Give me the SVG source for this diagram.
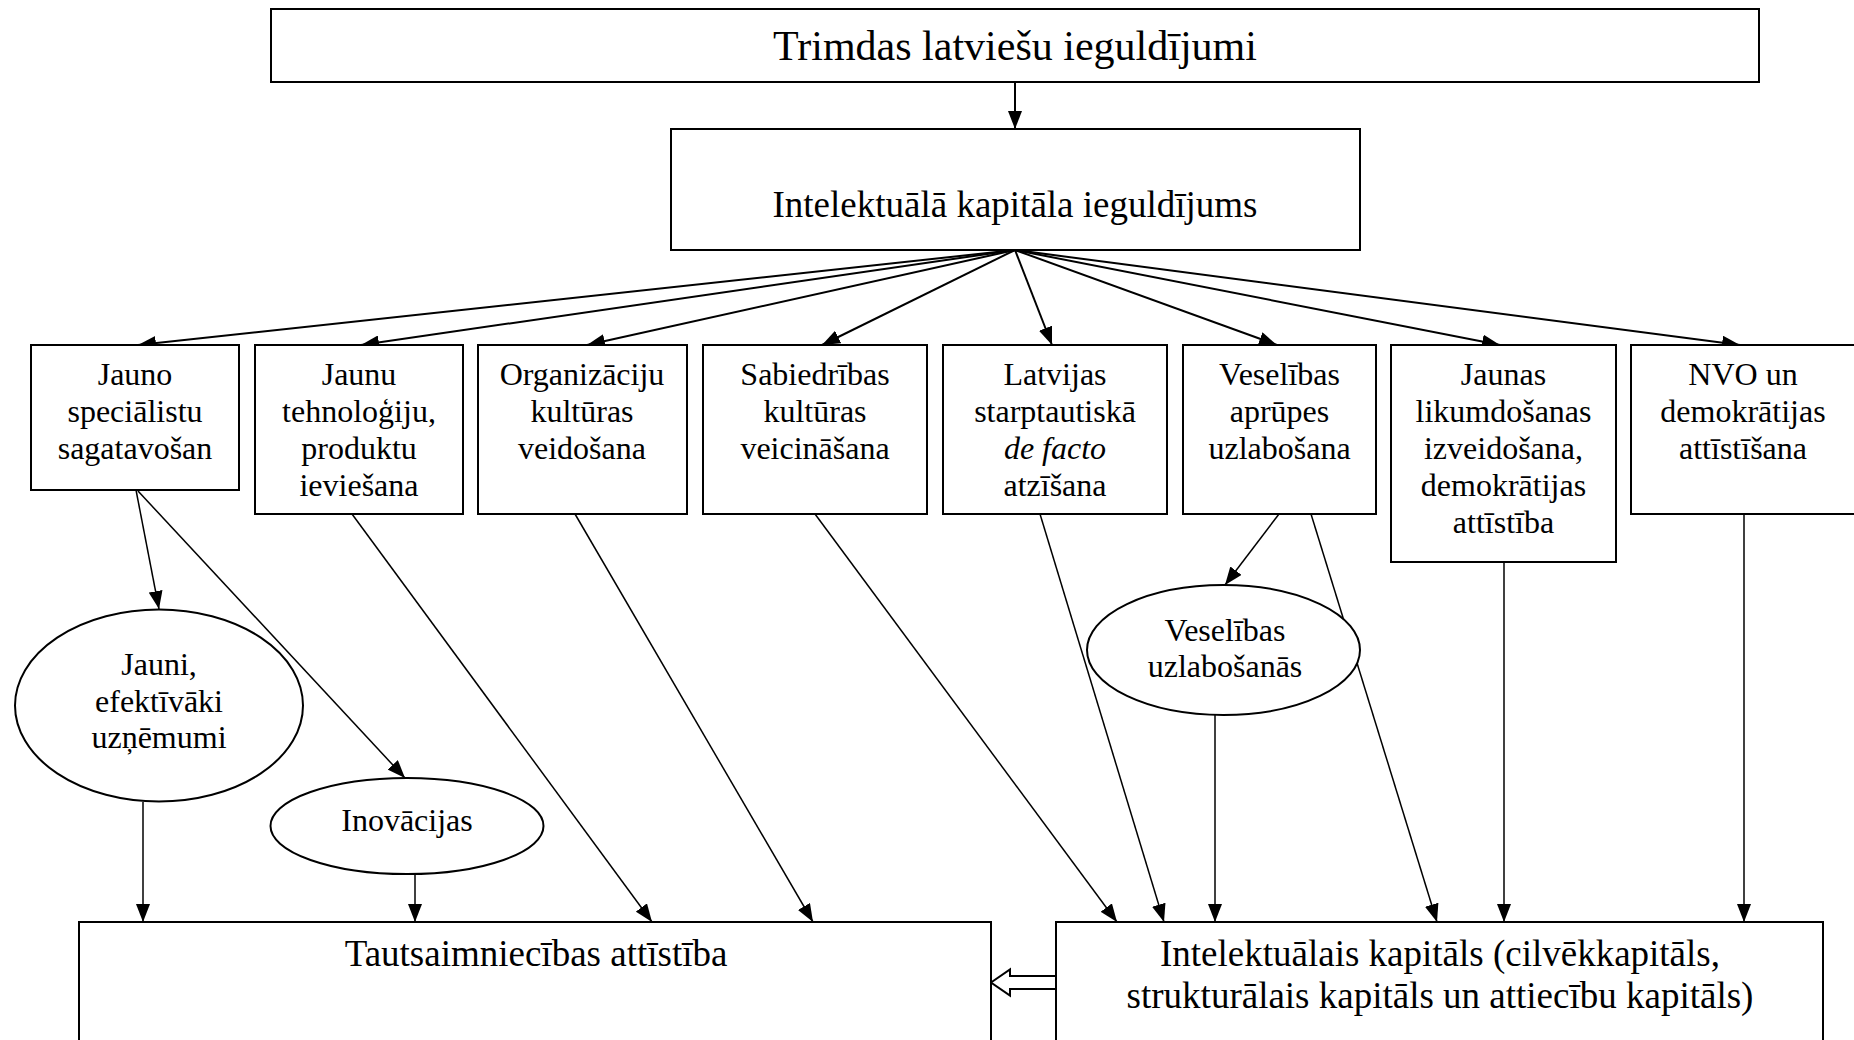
<svg xmlns="http://www.w3.org/2000/svg" width="1854" height="1040" viewBox="0 0 1854 1040">
<defs>
<marker id="ah" markerUnits="userSpaceOnUse" markerWidth="18" markerHeight="14" refX="18" refY="7" orient="auto"><path d="M0,0 L18,7 L0,14 z" fill="#000"/></marker>
<style>
.box{fill:#fff;stroke:#000;stroke-width:2}
.ell{fill:#fff;stroke:#000;stroke-width:2}
text{font-family:"Liberation Serif","Times New Roman",serif;fill:#000;text-anchor:middle}
.t32{font-size:32px}
.t37{font-size:37px}
.t42{font-size:42px}
.fan{stroke:#000;stroke-width:2;fill:none;marker-end:url(#ah)}
.ln{stroke:#000;stroke-width:1.5;fill:none;marker-end:url(#ah)}
</style>
</defs>
<rect width="1854" height="1040" fill="#fff"/>
<g id="connectors">
<line class="fan" x1="1015" y1="82" x2="1015" y2="129"/>
<line class="fan" x1="1015" y1="250" x2="138" y2="345"/>
<line class="fan" x1="1015" y1="250" x2="361" y2="345"/>
<line class="fan" x1="1015" y1="250" x2="587" y2="345"/>
<line class="fan" x1="1015" y1="250" x2="822" y2="345"/>
<line class="fan" x1="1015" y1="250" x2="1052" y2="345"/>
<line class="fan" x1="1015" y1="250" x2="1277" y2="345"/>
<line class="fan" x1="1015" y1="250" x2="1500" y2="345"/>
<line class="fan" x1="1015" y1="250" x2="1740" y2="345"/>
<line class="ln" x1="136" y1="490" x2="159" y2="609"/>
<line class="ln" x1="138" y1="491" x2="405" y2="778"/>
<line class="ln" x1="143" y1="802" x2="143" y2="922"/>
<line class="ln" x1="415" y1="874" x2="415" y2="922"/>
<line class="ln" x1="352" y1="514" x2="652" y2="922"/>
<line class="ln" x1="575" y1="514" x2="813" y2="922"/>
<line class="ln" x1="815" y1="514" x2="1117" y2="922"/>
<line class="ln" x1="1040" y1="514" x2="1164" y2="922"/>
<line class="ln" x1="1279" y1="514" x2="1225" y2="585"/>
<line class="ln" x1="1311" y1="514" x2="1437" y2="922"/>
<line class="ln" x1="1215" y1="715" x2="1215" y2="922"/>
<line class="ln" x1="1504" y1="562" x2="1504" y2="922"/>
<line class="ln" x1="1744" y1="514" x2="1744" y2="922"/>
<polygon points="991,982.5 1010,969.5 1010,976 1056,976 1056,989 1010,989 1010,995.5" fill="#fff" stroke="#000" stroke-width="2"/>
</g>
<g id="n-top"><rect class="box" x="271" y="9" width="1488" height="73"/><text class="t42" x="1015" y="60">Trimdas latviešu ieguldījumi</text></g>
<g id="n-ik"><rect class="box" x="671" y="129" width="689" height="121"/><text class="t37" x="1015" y="217">Intelektuālā kapitāla ieguldījums</text></g>
<g id="n-b1"><rect class="box" x="31" y="345" width="208" height="145"/><text class="t32" x="135"><tspan x="135" y="385">Jauno</tspan><tspan x="135" y="422">speciālistu</tspan><tspan x="135" y="459">sagatavošan</tspan></text></g>
<g id="n-b2"><rect class="box" x="255" y="345" width="208" height="169"/><text class="t32" x="359"><tspan x="359" y="385">Jaunu</tspan><tspan x="359" y="422">tehnoloģiju,</tspan><tspan x="359" y="459">produktu</tspan><tspan x="359" y="496">ieviešana</tspan></text></g>
<g id="n-b3"><rect class="box" x="478" y="345" width="209" height="169"/><text class="t32" x="582"><tspan x="582" y="385">Organizāciju</tspan><tspan x="582" y="422">kultūras</tspan><tspan x="582" y="459">veidošana</tspan></text></g>
<g id="n-b4"><rect class="box" x="703" y="345" width="224" height="169"/><text class="t32" x="815"><tspan x="815" y="385">Sabiedrības</tspan><tspan x="815" y="422">kultūras</tspan><tspan x="815" y="459">veicināšana</tspan></text></g>
<g id="n-b5"><rect class="box" x="943" y="345" width="224" height="169"/><text class="t32" x="1055"><tspan x="1055" y="385">Latvijas</tspan><tspan x="1055" y="422">starptautiskā</tspan><tspan x="1055" y="459" font-style="italic">de facto</tspan><tspan x="1055" y="496">atzīšana</tspan></text></g>
<g id="n-b6"><rect class="box" x="1183" y="345" width="193" height="169"/><text class="t32" x="1279.5"><tspan x="1279.5" y="385">Veselības</tspan><tspan x="1279.5" y="422">aprūpes</tspan><tspan x="1279.5" y="459">uzlabošana</tspan></text></g>
<g id="n-b7"><rect class="box" x="1391" y="345" width="225" height="217"/><text class="t32" x="1503.5"><tspan x="1503.5" y="385">Jaunas</tspan><tspan x="1503.5" y="422">likumdošanas</tspan><tspan x="1503.5" y="459">izveidošana,</tspan><tspan x="1503.5" y="496">demokrātijas</tspan><tspan x="1503.5" y="533">attīstība</tspan></text></g>
<g id="n-b8"><rect class="box" x="1631" y="345" width="226" height="169"/><text class="t32" x="1743"><tspan x="1743" y="385">NVO un</tspan><tspan x="1743" y="422">demokrātijas</tspan><tspan x="1743" y="459">attīstīšana</tspan></text></g>
<g id="n-e1"><ellipse class="ell" cx="159" cy="705.5" rx="144" ry="96"/><text class="t32" x="159"><tspan x="159" y="675">Jauni,</tspan><tspan x="159" y="712">efektīvāki</tspan><tspan x="159" y="748">uzņēmumi</tspan></text></g>
<g id="n-e2"><ellipse class="ell" cx="407" cy="826" rx="136.5" ry="48"/><text class="t32" x="407" y="831">Inovācijas</text></g>
<g id="n-e3"><ellipse class="ell" cx="1223.5" cy="650" rx="136.5" ry="65"/><text class="t32" x="1225"><tspan x="1225" y="641">Veselības</tspan><tspan x="1225" y="677">uzlabošanās</tspan></text></g>
<g id="n-tsa"><rect class="box" x="79" y="922" width="912" height="140"/><text class="t37" x="536" y="966">Tautsaimniecības attīstība</text></g>
<g id="n-ic"><rect class="box" x="1056" y="922" width="767" height="140"/><text class="t37" x="1440"><tspan x="1440" y="966">Intelektuālais kapitāls (cilvēkkapitāls,</tspan><tspan x="1440" y="1008">strukturālais kapitāls un attiecību kapitāls)</tspan></text></g>
</svg>
